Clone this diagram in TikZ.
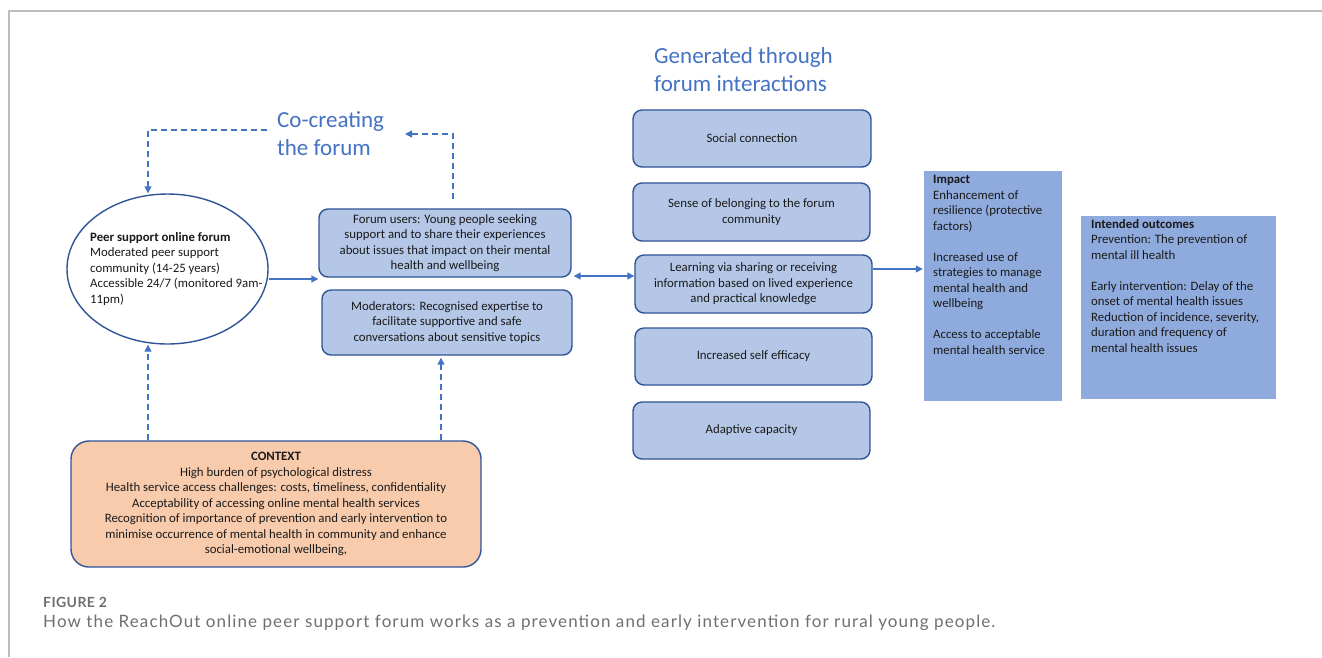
\documentclass[tikz,border=0pt]{standalone}
\usepackage{fontspec}
\setmainfont{Carlito}
\newfontfamily\capfont[LetterSpace=6.5]{Lato}
\newfontfamily\labelfont[LetterSpace=3]{Lato}
\usetikzlibrary{arrows.meta,shapes.geometric}

\definecolor{boxfill}{HTML}{B4C7E7}
\definecolor{boxline}{HTML}{2F5597}
\definecolor{arrowblue}{HTML}{4472C4}
\definecolor{impactfill}{HTML}{8FAADC}
\definecolor{contextfill}{HTML}{F8CBAD}
\definecolor{framegray}{HTML}{BDBDBD}
\definecolor{captiongray}{HTML}{707070}
\definecolor{bodytext}{HTML}{1A1A1A}

\newcommand{\bodysize}{\fontsize{12.8}{15.5}\selectfont}
\newcommand{\titlesize}{\fontsize{23}{28}\selectfont}

\begin{document}
\begin{tikzpicture}[x=1pt,y=-1pt,
  bluebox/.style={draw=boxline, fill=boxfill, line width=1.4pt, rounded corners=9pt,
    align=center, inner sep=0pt, text=bodytext, font=\bodysize},
  contextbox/.style={bluebox, fill=contextfill, rounded corners=18pt},
  flatbox/.style={fill=impactfill, draw=none, inner sep=0pt},
  plaintext/.style={align=left, inner sep=0pt, text=bodytext, font=\bodysize},
  bluetitle/.style={align=left, inner sep=0pt, text=arrowblue, font=\titlesize},
  flow/.style={draw=arrowblue, line width=1.4pt, -{Triangle[length=7pt,width=7pt]}},
  biflow/.style={draw=arrowblue, line width=1.4pt, {Triangle[length=7pt,width=7pt]}-{Triangle[length=7pt,width=7pt]}},
  dashflow/.style={flow, dash pattern=on 6pt off 4pt}
]
\useasboundingbox (0,0) rectangle (1322,657);
\fill[white] (0,0) rectangle (1322,657);

% frame
\draw[framegray, line width=1.5pt] (9,657) -- (9,11) -- (1322,11);

% peer support forum
\node[draw=boxline, line width=1.4pt, ellipse, minimum width=201pt, minimum height=150pt,
  inner sep=0pt] (forum) at (167.5,269) {};
\node[plaintext, anchor=north west] (forumtext) at (90,232)
  {\textbf{Peer support online forum}\\Moderated peer support\\community (14-25 years)\\Accessible 24/7 (monitored 9am-\\11pm)};

% participants
\node[bluebox, minimum width=252pt, minimum height=68pt] (users) at (445,243)
  {Forum users: Young people seeking\\support and to share their experiences\\about issues that impact on their mental\\health and wellbeing};
\node[bluebox, minimum width=250pt, minimum height=65pt] (moderators) at (447,322.5)
  {Moderators: Recognised expertise to\\facilitate supportive and safe\\conversations about sensitive topics};

% context
\node[contextbox, minimum width=410pt, minimum height=126pt] (context) at (276,504)
  {\textbf{CONTEXT}\\High burden of psychological distress\\Health service access challenges: costs, timeliness, confidentiality\\Acceptability of accessing online mental health services\\Recognition of importance of prevention and early intervention to\\minimise occurrence of mental health in community and enhance\\social-emotional wellbeing,};

% titles
\node[bluetitle, anchor=north west] (cocreate) at (277,111) {Co-creating\\the forum};
\node[bluetitle, anchor=north west] (generated) at (654,47) {Generated through\\forum interactions};

% mechanisms
\node[bluebox, minimum width=238pt, minimum height=57pt] (social) at (752,138.5) {Social connection};
\node[bluebox, minimum width=237pt, minimum height=58pt] (belonging) at (751.5,212) {Sense of belonging to the forum\\community};
\node[bluebox, minimum width=237pt, minimum height=58pt] (learning) at (753.5,284) {Learning via sharing or receiving\\information based on lived experience\\and practical knowledge};
\node[bluebox, minimum width=237pt, minimum height=57pt] (efficacy) at (753.5,356.5) {Increased self efficacy};
\node[bluebox, minimum width=237pt, minimum height=57pt] (adaptive) at (751.5,430.5) {Adaptive capacity};

% impact and outcomes
\node[flatbox, minimum width=138pt, minimum height=230pt] (impact) at (993,286) {};
\node[plaintext, anchor=north west] (impacttext) at (933,175)
  {\textbf{Impact}\\Enhancement of\\resilience (protective\\factors)\\[15.5pt]Increased use of\\strategies to manage\\mental health and\\wellbeing\\[15.5pt]Access to acceptable\\mental health service};
\node[flatbox, minimum width=195pt, minimum height=183pt] (outcomes) at (1178.5,307.5) {};
\node[plaintext, anchor=north west] (outcomestext) at (1091,219)
  {\textbf{Intended outcomes}\\Prevention: The prevention of\\mental ill health\\[15.5pt]Early intervention: Delay of the\\onset of mental health issues\\Reduction of incidence, severity,\\duration and frequency of\\mental health issues};

% connectors
\coordinate (feedY) at (0,279);
\coordinate (biY) at (0,276);
\coordinate (impY) at (0,269);
\coordinate (ccA) at (267,130);
\coordinate (ccB) at (148,130);
\coordinate (ccC) at (453,134);
\coordinate (ccD) at (405,134);
\coordinate (ctxX) at (441,0);

\draw[flow] (forum.east |- feedY) -- (users.west |- feedY);
\draw[biflow] ([xshift=2pt]users.east |- biY) -- (learning.west |- biY);
\draw[flow] (learning.east |- impY) -- ([xshift=-1pt]impact.west |- impY);
\draw[dashflow] (ccA) -- (ccB) -- (ccB |- forum.north);
\draw[dashflow] ([yshift=9pt]users.north -| ccC) -- (ccC) -- (ccD);
\draw[dashflow] (context.north -| ccB) -- (ccB |- forum.south);
\draw[dashflow] (context.north -| ctxX) -- ([yshift=-2pt]moderators.south -| ctxX);

% caption
\node[anchor=west, inner sep=0pt, text=captiongray, font=\labelfont\bfseries\fontsize{14}{16}\selectfont] (figlabel) at (43,602) {FIGURE 2};
\node[anchor=west, inner sep=0pt, text=captiongray, font=\capfont\fontsize{17}{20}\selectfont] (caption) at (43,623)
  {How the ReachOut online peer support forum works as a prevention and early intervention for rural young people.};
\end{tikzpicture}
\end{document}
